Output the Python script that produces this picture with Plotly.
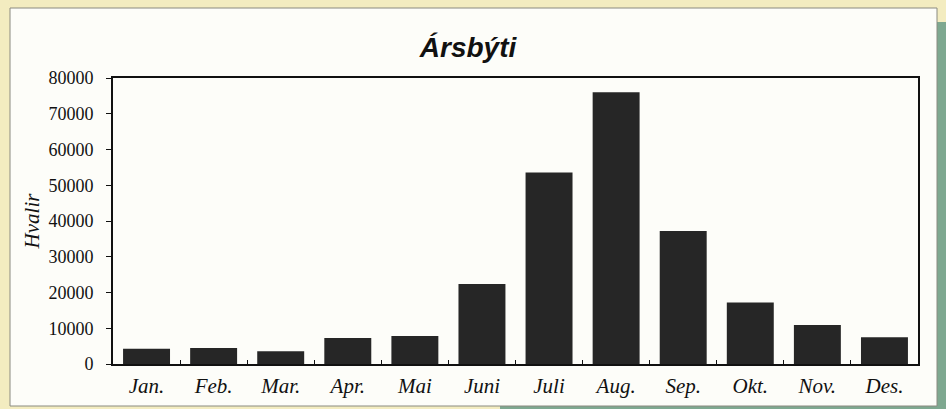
import plotly.graph_objects as go

# Monthly whale counts
months = ["Jan.", "Feb.", "Mar.", "Apr.", "Mai", "Juni", "Juli", "Aug.", "Sep.", "Okt.", "Nov.", "Des."]
whales = [4300, 4500, 3600, 7300, 7800, 22400, 53600, 76000, 37200, 17200, 10900, 7500]
y_ticks = [0, 10000, 20000, 30000, 40000, 50000, 60000, 70000, 80000]

W, H = 946, 409
L, R, T, B = 113, 28, 78, 45
pw, ph = W - L - R, H - T - B


def px_x(p):
    return (p - L) / pw


def px_y(p):
    return (H - B - p) / ph


BEIGE = "#f3ecc0"
GREEN = "#7ea890"
PANEL = "#fdfdf9"
BAR = "#262626"

fig = go.Figure(
    go.Bar(
        x=months,
        y=whales,
        marker=dict(color=BAR, line=dict(width=0)),
        width=0.7,
    )
)

shapes = [
    # green card edge on the right and along the bottom
    dict(type="rect", xref="paper", yref="paper", layer="below",
         x0=px_x(930), x1=px_x(W + 5), y0=px_y(H + 5), y1=px_y(22),
         fillcolor=GREEN, line=dict(width=0)),
    dict(type="rect", xref="paper", yref="paper", layer="below",
         x0=px_x(500), x1=px_x(W + 5), y0=px_y(H + 5), y1=px_y(406),
         fillcolor=GREEN, line=dict(width=0)),
    # white chart panel
    dict(type="rect", xref="paper", yref="paper", layer="below",
         x0=px_x(10), x1=px_x(937), y0=px_y(406), y1=px_y(8),
         fillcolor=PANEL, line=dict(color="#8a8a80", width=1)),
]

fig.update_layout(
    width=W, height=H,
    margin=dict(l=L, r=R, t=T, b=B, pad=0),
    paper_bgcolor=BEIGE,
    plot_bgcolor=PANEL,
    showlegend=False,
    bargap=0.3,
    shapes=shapes,
    title=dict(
        text="<b><i>Ársbýti</i></b>",
        x=468 / W, xanchor="center",
        y=1 - 47 / H, yanchor="middle",
        font=dict(family="Liberation Sans, Arial, sans-serif", size=28, color="#111"),
    ),
    font=dict(family="Liberation Serif, Times New Roman, serif", color="#111"),
)

fig.update_xaxes(
    type="category",
    tickson="boundaries",
    ticks="inside", ticklen=4, tickwidth=1, tickcolor="#111",
    showline=True, linecolor="#111", linewidth=2, mirror=True,
    showgrid=False, zeroline=False,
    tickfont=dict(family="Liberation Serif, serif", size=21, style="italic", color="#111"),
    ticklabelstandoff=2,
)

fig.update_yaxes(
    range=[0, 80000],
    tickvals=y_ticks,
    ticktext=[str(v) for v in y_ticks],
    ticks="outside", ticklen=5, tickwidth=1, tickcolor="#111",
    showline=True, linecolor="#111", linewidth=2, mirror=True,
    showgrid=False, zeroline=False,
    tickfont=dict(family="Liberation Serif, serif", size=18, color="#111"),
    ticklabelstandoff=9,
    title=dict(
        text="<i>Hvalir</i>",
        font=dict(family="Liberation Serif, serif", size=21, color="#111"),
        standoff=3,
    ),
)

fig.write_html("out.html")
